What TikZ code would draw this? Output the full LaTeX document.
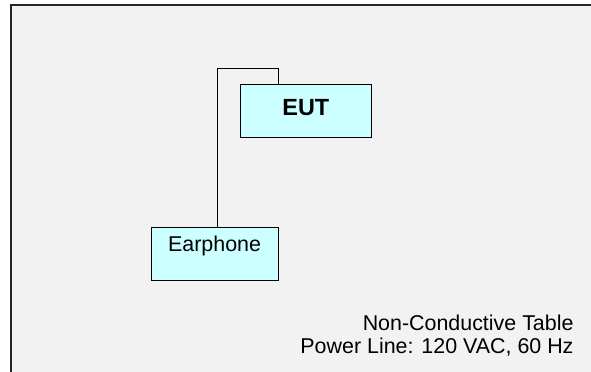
\documentclass[tikz,border=0pt]{standalone}
\usepackage{fontspec}
\setmainfont{Liberation Sans}
\usepackage{tikz}
\usetikzlibrary{positioning}

\definecolor{tablegray}{HTML}{F2F2F2}
\definecolor{boxcyan}{HTML}{CCFFFF}

\begin{document}
\begin{tikzpicture}[
  x=1bp, y=-1bp,
  box/.style={rectangle, draw, line width=1.2bp, fill=boxcyan, inner sep=0pt,
              font=\fontsize{21.5}{25}\selectfont, align=center},
  wire/.style={line width=1.2bp}
]
\useasboundingbox (0,0) rectangle (591,371);
% table outline
\draw[line width=1.5bp, draw=black!85, fill=tablegray] (11,5) rectangle (620,400);

\node[box, minimum width=131bp, minimum height=53bp, text height=15bp, text depth=5bp,
      font=\fontsize{23.5}{26}\selectfont\bfseries] (eut) at (305.8,110.7) {EUT};
\node[box, minimum width=127bp, minimum height=53bp, text height=15bp, text depth=19bp]
      (earphone) at (214.6,253.6) {Earphone};

\coordinate (bend) at (217.3,68.3);
\draw[wire] (earphone.north -| bend) -- (bend) -| ([xshift=-27.5bp]eut.north);

\node[anchor=base east, inner sep=0pt, align=right, font=\fontsize{21.5}{23.3}\selectfont]
      (note) at (573.7,353.3) {Non-Conductive Table\\Power Line: 120 VAC, 60 Hz};
\end{tikzpicture}
\end{document}
